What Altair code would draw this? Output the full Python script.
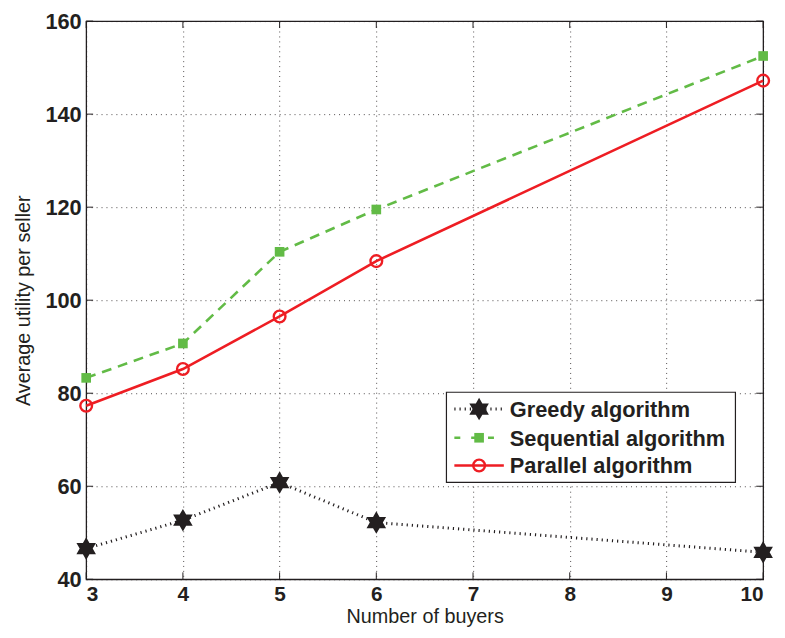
import math
import altair as alt
import pandas as pd

buyers = [3, 4, 5, 6, 10]
greedy = [46.6, 52.7, 60.8, 52.2, 45.8]
sequential = [83.3, 90.7, 110.4, 119.5, 152.5]
parallel = [77.3, 85.2, 96.5, 108.4, 147.2]
series_names = ["Greedy algorithm", "Sequential algorithm", "Parallel algorithm"]
x_ticks = [3, 4, 5, 6, 7, 8, 9, 10]
y_ticks = [40, 60, 80, 100, 120, 140, 160]

W, H = 684, 564
RED = "#ee1d23"
GREEN = "#62bb46"
BLACK = "#231f20"
FONT = "Liberation Sans"

# hexagram path in [-1, 1]
pts = []
for k in range(12):
    ang = math.radians(-90 + 30 * k)
    r = 1.0 if k % 2 == 0 else 0.5774
    pts.append(f"{r*math.cos(ang):.4f},{r*math.sin(ang):.4f}")
HEX = "M" + "L".join(pts) + "Z"

df = pd.DataFrame({"buyers": buyers, "greedy": greedy,
                   "sequential": sequential, "parallel": parallel})

xs = alt.Scale(domain=[3, 10], nice=False, zero=False)
ys = alt.Scale(domain=[40, 160], nice=False, zero=False)

X = alt.X("buyers:Q", scale=xs,
          axis=alt.Axis(values=x_ticks, title="Number of buyers", format="d",
                        titleBaseline="alphabetic", titleY=44))
base = alt.Chart(df)


def yenc(col, axis=False):
    if axis:
        return alt.Y(f"{col}:Q", scale=ys,
                     axis=alt.Axis(values=y_ticks, title="Average utility per seller"))
    return alt.Y(f"{col}:Q", scale=ys)


GLINE = dict(color=BLACK, strokeWidth=3, strokeDash=[1.2, 4])
g_line = base.mark_line(**GLINE).encode(x=X, y=yenc("greedy", True))
g_pt = base.mark_point(shape=HEX, size=520, filled=True, color=BLACK, opacity=1).encode(x=X, y=yenc("greedy"))
s_line = base.mark_line(color=GREEN, strokeWidth=2.6, strokeDash=[10, 7]).encode(x=X, y=yenc("sequential"))
s_pt = base.mark_point(shape="square", size=95, filled=True, color=GREEN, opacity=1).encode(x=X, y=yenc("sequential"))
p_line = base.mark_line(color=RED, strokeWidth=2.6).encode(x=X, y=yenc("parallel"))
p_pt = base.mark_point(shape="circle", size=140, filled=False, color=RED, strokeWidth=2.4, opacity=1).encode(x=X, y=yenc("parallel"))

# inward ticks (MATLAB style)
xt = pd.DataFrame({"t": x_ticks})
yt = pd.DataFrame({"t": y_ticks})
tx = alt.X("t:Q", scale=xs)
ty = alt.Y("t:Q", scale=ys)
tick_layers = [
    alt.Chart(xt).mark_rule(color=BLACK, strokeWidth=1).encode(x=tx, y=alt.value(H), y2=alt.value(H - 7)),
    alt.Chart(xt).mark_rule(color=BLACK, strokeWidth=1).encode(x=tx, y=alt.value(0), y2=alt.value(7)),
    alt.Chart(yt).mark_rule(color=BLACK, strokeWidth=1).encode(y=ty, x=alt.value(0), x2=alt.value(7)),
    alt.Chart(yt).mark_rule(color=BLACK, strokeWidth=1).encode(y=ty, x=alt.value(W - 7), x2=alt.value(W)),
]

# legend box (drawn manually)
LX0, LX1, LY0, LY1 = 364, 656, 375, 466
legend_box = alt.Chart(pd.DataFrame({"a": [0]})).mark_rect(
    fill="white", stroke=BLACK, strokeWidth=1.2).encode(
    x=alt.value(LX0), x2=alt.value(LX1), y=alt.value(LY0), y2=alt.value(LY1))
rows_y = [LY0 + 17, LY0 + 46, LY0 + 74]
leg_layers = [legend_box]
styles = [
    dict(line=GLINE,
         pt=dict(shape=HEX, size=520, filled=True, color=BLACK)),
    dict(line=dict(color=GREEN, strokeWidth=2.6, strokeDash=[6, 11]),
         pt=dict(shape="square", size=95, filled=True, color=GREEN)),
    dict(line=dict(color=RED, strokeWidth=2.6),
         pt=dict(shape="circle", size=140, filled=False, color=RED, strokeWidth=2.4)),
]
one = pd.DataFrame({"a": [0]})
for i, name in enumerate(series_names):
    yy = rows_y[i]
    leg_layers.append(alt.Chart(one).mark_rule(**styles[i]["line"]).encode(
        x=alt.value(LX0 + 8), x2=alt.value(LX0 + 58), y=alt.value(yy)))
    leg_layers.append(alt.Chart(one).mark_point(opacity=1, **styles[i]["pt"]).encode(
        x=alt.value(LX0 + 33), y=alt.value(yy)))
    leg_layers.append(alt.Chart(pd.DataFrame({"name": [name]})).mark_text(
        align="left", baseline="middle", font=FONT, fontWeight="bold", fontSize=22,
        color=BLACK).encode(x=alt.value(LX0 + 64), y=alt.value(yy + 1), text="name:N"))

chart = alt.layer(
    g_line, s_line, p_line, *tick_layers, g_pt, s_pt, p_pt, *leg_layers
).properties(
    width=W, height=H,
    autosize=alt.AutoSizeParams(type="none"),
    padding={"left": 79, "top": 10, "right": 14, "bottom": 48},
).configure_view(
    stroke=BLACK, strokeWidth=1.3
).configure_axis(
    grid=True, gridColor=BLACK, gridDash=[1, 4], gridWidth=1, gridOpacity=0.8,
    domain=False, ticks=False,
    labelFont=FONT, labelFontWeight="bold", labelFontSize=21, labelColor=BLACK,
    titleFont=FONT, titleFontWeight="normal", titleFontSize=20, titleColor=BLACK,
).configure_axisX(
    labelPadding=4
).configure_axisY(
    labelFontSize=22, labelPadding=5, titlePadding=12
)

chart.save("out.html", embed_options={"renderer": "svg", "actions": False})
